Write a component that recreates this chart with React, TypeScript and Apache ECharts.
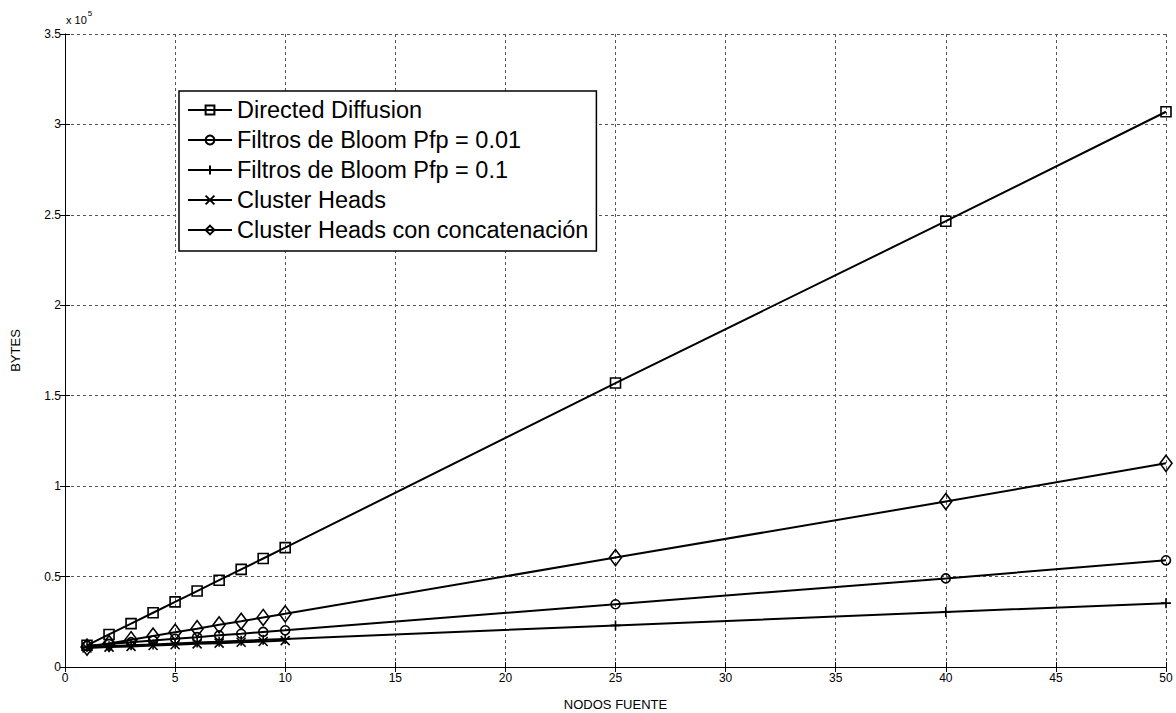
import React, { useEffect, useRef } from "react";
import * as echarts from "echarts";

const nodes = [1, 2, 3, 4, 5, 6, 7, 8, 9, 10, 25, 40, 50];
const clusterNodes = [1, 2, 3, 4, 5, 6, 7, 8, 9, 10];

const directedDiffusion = [12000, 18000, 24000, 30000, 36000, 42000, 48000, 54000, 60000, 66000, 157000, 246500, 307000];
const bloom001 = [11800, 12700, 13700, 14600, 15600, 16500, 17500, 18400, 19400, 20300, 34700, 49000, 59000];
const bloom01 = [11000, 11500, 12000, 12500, 13000, 13500, 14000, 14500, 15000, 15500, 23000, 30400, 35300];
const clusterHeads = [10500, 11000, 11400, 11900, 12300, 12800, 13200, 13700, 14100, 14600];
const concat = [11000, 13000, 15100, 17100, 19200, 21200, 23300, 25300, 27400, 29400, 60500, 91500, 112600];

const seriesNames = [
  "Directed Diffusion",
  "Filtros de Bloom Pfp = 0.01",
  "Filtros de Bloom Pfp = 0.1",
  "Cluster Heads",
  "Cluster Heads con concatenación",
];

const xTicks = { min: 0, max: 50, interval: 5 };
const yTicks = { min: 0, max: 350000, interval: 50000 };

const FONT = "Liberation Sans, Arial, sans-serif";

export default function App() {
  const ref = useRef<HTMLDivElement>(null);
  useEffect(() => {
    if (!ref.current) return;
    const chart = echarts.init(ref.current, undefined, { renderer: "svg" });
    const pairs = (xs: number[], ys: number[]) => ys.map((y, i) => [xs[i], y]);
    const base = (name: string, data: number[][], symbol: string, size: any) => ({
      name,
      type: "line",
      data,
      symbol,
      symbolSize: size,
      showAllSymbol: true,
      lineStyle: { color: "#000", width: 2 },
      itemStyle: { color: "rgba(0,0,0,0)", borderColor: "#000", borderWidth: 1.6 },
      emphasis: { disabled: true },
      z: 3,
    });
    const gridLine = { show: true, lineStyle: { color: "#555", type: [3, 3], width: 1 } };
    const axisLine = { show: true, lineStyle: { color: "#000", width: 1 } };
    chart.setOption({
      animation: false,
      backgroundColor: "#fff",
      grid: { left: 65, right: 10, top: 34, bottom: 46, containLabel: false, outerBoundsMode: "none" },
      xAxis: [
        {
          type: "value",
          ...xTicks,
          name: "NODOS FUENTE",
          nameLocation: "middle",
          nameGap: 31,
          nameTextStyle: { color: "#000", fontFamily: FONT, fontSize: 13 },
          axisLine,
          axisTick: { show: true, inside: true, length: 5, lineStyle: { color: "#000" } },
          axisLabel: { color: "#000", fontFamily: FONT, fontSize: 12, margin: 5 },
          splitLine: gridLine,
        },
        {
          type: "value",
          position: "top",
          ...xTicks,
          axisLine,
          axisTick: { show: true, inside: true, length: 5, lineStyle: { color: "#000" } },
          axisLabel: { show: false },
          splitLine: { show: false },
        },
      ],
      yAxis: [
        {
          type: "value",
          ...yTicks,
          name: "BYTES",
          nameLocation: "middle",
          nameGap: 43,
          nameTextStyle: { color: "#000", fontFamily: FONT, fontSize: 13 },
          axisLine,
          axisTick: { show: true, inside: true, length: 5, lineStyle: { color: "#000" } },
          axisLabel: {
            color: "#000",
            fontFamily: FONT,
            fontSize: 12,
            margin: 4,
            formatter: (v: number) => String(v / 100000),
          },
          splitLine: gridLine,
        },
        {
          type: "value",
          position: "right",
          ...yTicks,
          axisLine,
          axisTick: { show: true, inside: true, length: 5, lineStyle: { color: "#000" } },
          axisLabel: { show: false },
          splitLine: { show: false },
        },
      ],
      legend: {
        data: seriesNames,
        orient: "vertical",
        left: 179,
        top: 91,
        width: 421,
        padding: [7, 8, 9, 8],
        itemGap: 6,
        itemWidth: 44,
        itemHeight: 11,
        borderColor: "#000",
        borderWidth: 1.5,
        backgroundColor: "#fff",
        textStyle: { color: "#000", fontFamily: FONT, fontSize: 23.5, lineHeight: 24 },
        selectedMode: false,
      },
      graphic: [
        {
          type: "text",
          left: 66,
          top: 9,
          style: {
            text: "{a|x 10}{b|5}",
            rich: {
              a: { fontFamily: FONT, fontSize: 11, fill: "#000", padding: [8, 0, 0, 0] },
              b: { fontFamily: FONT, fontSize: 8, fill: "#000", padding: [0, 0, 6, 1] },
            },
          },
        },
      ],
      series: [
        base(seriesNames[0], pairs(nodes, directedDiffusion), "rect", 10),
        base(seriesNames[1], pairs(nodes, bloom001), "circle", 9),
        base(seriesNames[2], pairs(nodes, bloom01), "path://M5,0L5,10M0,5L10,5", 10),
        base(seriesNames[3], pairs(clusterNodes, clusterHeads), "path://M0,0L10,10M10,0L0,10", 9),
        base(seriesNames[4], pairs(nodes, concat), "diamond", [12, 16]),
      ],
    });
    return () => chart.dispose();
  }, []);
  return (
    <div
      ref={ref}
      style={{ position: "fixed", left: 0, top: 0, width: 1176, height: 713, background: "#fff" }}
    />
  );
}
